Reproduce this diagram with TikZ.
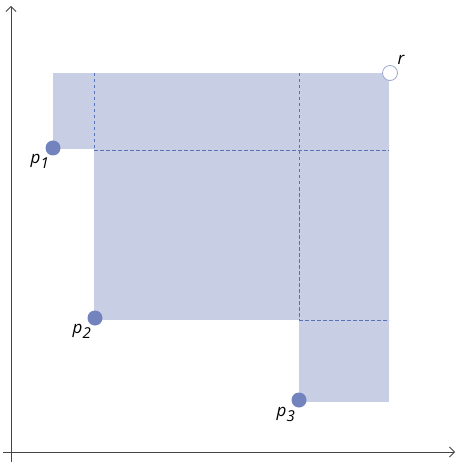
\documentclass[tikz,border=0pt]{standalone}
\usepackage{fontspec}
\setmainfont{Open Sans}
\usetikzlibrary{arrows.meta}
\definecolor{regionc}{HTML}{C8CFE5}
\definecolor{dotc}{HTML}{7283BD}
\definecolor{dashc}{HTML}{5A72B8}
\definecolor{axisc}{HTML}{444444}
\tikzset{
  axisline/.style={draw=axisc, line width=0.9pt, -{Straight Barb[length=5pt,width=10pt,line width=0.8pt]}},
  guide/.style={draw=dashc, line width=0.6pt, dash pattern=on 3.5pt off 2.5pt},
  region/.style={fill=regionc},
  pt/.style={circle, fill=dotc, minimum size=15pt, inner sep=0pt},
  refpt/.style={circle, fill=white, draw=dotc!70, line width=0.8pt, minimum size=15pt, inner sep=0pt},
  lbl/.style={font=\fontsize{17}{17}\selectfont\itshape, inner sep=0pt}
}
\begin{document}
\begin{tikzpicture}[x=1pt,y=-1pt]
\useasboundingbox (0,0) rectangle (462,462);
% shaded region
\path[region] (53,73) rectangle (389,149);
\path[region] (94,73) rectangle (389,320);
\path[region] (299,73) rectangle (389,402);
% guide lines
\draw[guide] (94,73) -- (94,149);
\draw[guide] (299,73) -- (299,320);
\draw[guide] (94,150) -- (389,150);
\draw[guide] (299,320) -- (389,320);
% axes
\coordinate (yt) at (11,6);
\coordinate (xt) at (455,452);
\coordinate (ys) at (11,462);
\coordinate (xs) at (3,452);
\draw[axisline] (ys) -- (yt);
\draw[axisline] (xs) -- (xt);
% points
\node[pt] (p1) at (53,148) {};
\node[pt] (p2) at (95,318) {};
\node[pt] (p3) at (299,400) {};
\node[refpt] (r) at (390,73) {};
% labels
\node[lbl] at (40,161) {p\textsubscript{\fontsize{15}{15}\selectfont 1}};
\node[lbl] at (82,331) {p\textsubscript{\fontsize{15}{15}\selectfont 2}};
\node[lbl] at (286,414) {p\textsubscript{\fontsize{15}{15}\selectfont 3}};
\node[lbl] at (401,60) {r};
\end{tikzpicture}
\end{document}
